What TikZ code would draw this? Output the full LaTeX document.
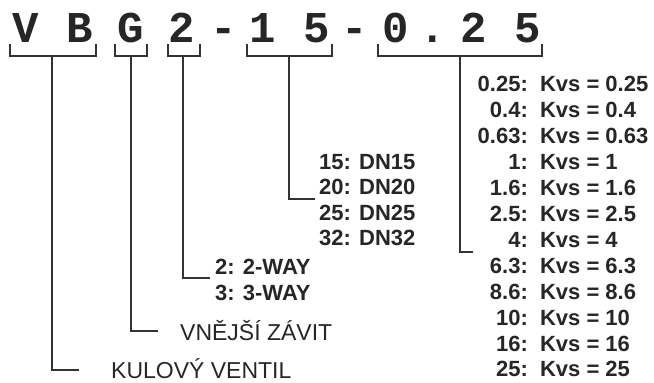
\documentclass[tikz,border=0pt]{standalone}
\usepackage{fontspec}
\setmainfont{Liberation Sans}
\newfontfamily\monofam{Liberation Mono}
\definecolor{ink}{HTML}{262626}
\definecolor{wire}{HTML}{333333}
\begin{document}
\begin{tikzpicture}[x=1pt,y=-1pt,
  wirestyle/.style={draw=wire,line width=2pt,line cap=rect,line join=miter},
  titlech/.style={anchor=base,inner sep=0pt,text=ink,font=\monofam\bfseries\fontsize{44}{44}\selectfont},
  boldlab/.style={anchor=base west,inner sep=0pt,text=ink,font=\bfseries\fontsize{22}{22}\selectfont},
  plainlab/.style={anchor=base west,inner sep=0pt,text=ink,font=\fontsize{23}{23}\selectfont},
  kvslab/.style={anchor=base,inner sep=0pt,text=ink,font=\bfseries\fontsize{22}{22}\selectfont}]
\useasboundingbox (0,0) rectangle (654,383);
% title characters
\node[titlech] (cV) at (26,42) {V};
\node[titlech] (cB) at (80,42) {B};
\node[titlech] (cG) at (131,42) {G};
\node[titlech] (c2) at (182,42) {2};
\node[titlech] (cd1) at (224,42) {-};
\node[titlech] (c1) at (263,42) {1};
\node[titlech] (c5) at (317,42) {5};
\node[titlech] (cd2) at (355,42) {-};
\node[titlech] (c0) at (396,42) {0};
\node[titlech] (cp) at (433,42) {.};
\node[titlech] (c2b) at (474,42) {2};
\node[titlech] (c5b) at (528,42) {5};
% bracket coordinates
\coordinate (aL) at (10,45); \coordinate (aLb) at (10,56); \coordinate (aRb) at (96,56); \coordinate (aR) at (96,45);
\coordinate (aS) at (52,56); \coordinate (aE) at (52,370); \coordinate (aF) at (78,370);
\coordinate (bL) at (115,45); \coordinate (bLb) at (115,56); \coordinate (bRb) at (147,56); \coordinate (bR) at (147,45);
\coordinate (bS) at (131,56); \coordinate (bE) at (131,331); \coordinate (bF) at (157,331);
\coordinate (dL) at (168,45); \coordinate (dLb) at (168,56); \coordinate (dRb) at (200,56); \coordinate (dR) at (200,45);
\coordinate (dS) at (183,56); \coordinate (dE) at (183,278); \coordinate (dF) at (209,278);
\coordinate (eL) at (247,45); \coordinate (eLb) at (247,56); \coordinate (eRb) at (332,56); \coordinate (eR) at (332,45);
\coordinate (eS) at (289,56); \coordinate (eE) at (289,199); \coordinate (eF) at (314,199);
\coordinate (fL) at (378,45); \coordinate (fLb) at (378,56); \coordinate (fRb) at (542,56); \coordinate (fR) at (542,45);
\coordinate (fS) at (460,56); \coordinate (fE) at (460,252); \coordinate (fF) at (472,252);
\foreach \k in {a,b,d,e,f}{
  \draw[wirestyle] (\k L) -- (\k Lb) -- (\k Rb) -- (\k R);
  \draw[wirestyle] (\k S) -- (\k E) -- (\k F);
}
% labels
\node[plainlab] (kul) at (111,378) {KULOVÝ VENTIL};
\node[plainlab] (vne) at (180,340) {VNĚJŠÍ ZÁVIT};
\node[boldlab] (w2) at (215,274) {2: 2-WAY};
\node[boldlab] (w3) at (215,300) {3: 3-WAY};
\node[boldlab] (n15) at (319,169) {15: DN15};
\node[boldlab] (n20) at (319,194) {20: DN20};
\node[boldlab] (n25) at (319,220) {25: DN25};
\node[boldlab] (n32) at (319,245) {32: DN32};
\node[kvslab] (k1) at (563,91) {0.25:\ \ Kvs = 0.25};
\node[kvslab] (k2) at (563,117) {0.4:\ \ Kvs = 0.4};
\node[kvslab] (k3) at (563,143) {0.63:\ \ Kvs = 0.63};
\node[kvslab] (k4) at (563,169) {1:\ \ Kvs = 1};
\node[kvslab] (k5) at (563,195) {1.6:\ \ Kvs = 1.6};
\node[kvslab] (k6) at (563,221) {2.5:\ \ Kvs = 2.5};
\node[kvslab] (k7) at (563,247) {4:\ \ Kvs = 4};
\node[kvslab] (k8) at (563,273) {6.3:\ \ Kvs = 6.3};
\node[kvslab] (k9) at (563,299) {8.6:\ \ Kvs = 8.6};
\node[kvslab] (k10) at (563,325) {10:\ \ Kvs = 10};
\node[kvslab] (k11) at (563,351) {16:\ \ Kvs = 16};
\node[kvslab] (k12) at (563,376) {25:\ \ Kvs = 25};
\end{tikzpicture}
\end{document}
